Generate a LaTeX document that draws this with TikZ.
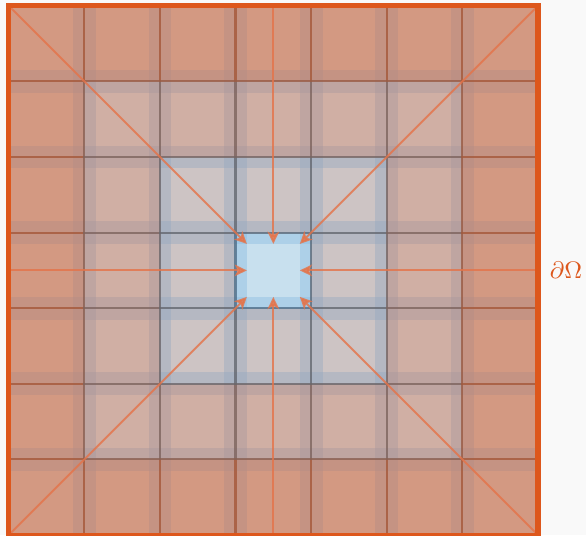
\documentclass[tikz,border=0pt]{standalone}
\usepackage{tikz}
\usetikzlibrary{arrows.meta}

\definecolor{pagebg}{RGB}{249,249,249}
\definecolor{rimc}{RGB}{221,87,28}
\definecolor{flowc}{RGB}{228,116,74}
% fill, overlap and edge colours per ring (0 = centre)
\definecolor{ringfill0}{RGB}{200,224,238}
\definecolor{ringfill1}{RGB}{205,196,196}
\definecolor{ringfill2}{RGB}{208,175,164}
\definecolor{ringfill3}{RGB}{211,153,130}
\definecolor{ringstrip0}{RGB}{136,188,226}
\definecolor{ringstrip1}{RGB}{150,168,192}
\definecolor{ringstrip2}{RGB}{168,152,158}
\definecolor{ringstrip3}{RGB}{178,140,134}
\definecolor{ringline0}{RGB}{70,115,150}
\definecolor{ringline1}{RGB}{100,104,112}
\definecolor{ringline2}{RGB}{125,100,94}
\definecolor{ringline3}{RGB}{165,88,58}

\newcommand{\ovw}{0.15}

\tikzset{
  ovlap/.style={fill=ringstrip#1, fill opacity=0.42},
  cellline/.style={draw=ringline#1, line width=0.8pt, draw opacity=0.55},
  flow/.style={-{Stealth[length=4.6pt,width=4.4pt,inset=1.2pt]}, draw=flowc,
    line width=0.75pt, opacity=0.82}
}

\begin{document}
\begin{tikzpicture}[x=1cm,y=1cm]
  % Page
  \fill[pagebg] (-0.115,0) rectangle (7.635,7.076);
  \useasboundingbox (-0.115,0) rectangle (7.635,7.076);
  % Subdomains with their overlap strips
  \foreach \i in {0,...,6} {
    \foreach \j in {0,...,6} {
      \pgfmathtruncatemacro\ring{max(abs(\i-3),abs(\j-3))}
      \fill[ringfill\ring] (\i,\j) rectangle ++(1,1);
      \ifnum\i>0 \fill[ovlap=\ring] (\i,\j) rectangle (\i+\ovw,\j+1); \fi
      \ifnum\i<6 \fill[ovlap=\ring] (\i+1-\ovw,\j) rectangle (\i+1,\j+1); \fi
      \ifnum\j>0 \fill[ovlap=\ring] (\i,\j) rectangle (\i+1,\j+\ovw); \fi
      \ifnum\j<6 \fill[ovlap=\ring] (\i,\j+1-\ovw) rectangle (\i+1,\j+1); \fi
    }
  }
  % Subdomain edges
  \foreach \i in {0,...,6} {
    \foreach \j in {0,...,6} {
      \pgfmathtruncatemacro\ring{max(abs(\i-3),abs(\j-3))}
      \draw[cellline=\ring] (\i,\j) rectangle ++(1,1);
    }
  }
  % Boundary points and targets on the centre subdomain
  \coordinate (bsw) at (0,0);
  \coordinate (bse) at (7,0);
  \coordinate (bnw) at (0,7);
  \coordinate (bne) at (7,7);
  \coordinate (bn) at (3.5,7);
  \coordinate (bs) at (3.5,0);
  \coordinate (bw) at (0,3.5);
  \coordinate (be) at (7,3.5);
  \coordinate (csw) at (3+\ovw,3+\ovw);
  \coordinate (cse) at (4-\ovw,3+\ovw);
  \coordinate (cnw) at (3+\ovw,4-\ovw);
  \coordinate (cne) at (4-\ovw,4-\ovw);
  \coordinate (cn) at (3.5,4-\ovw);
  \coordinate (cs) at (3.5,3+\ovw);
  \coordinate (cw) at (3+\ovw,3.5);
  \coordinate (ce) at (4-\ovw,3.5);
  % Propagation from the boundary
  \foreach \p in {sw,se,nw,ne,n,s,w,e}
    \draw[flow] (b\p) -- (c\p);
  % Boundary
  \draw[rimc, line width=1.9pt] (0,0) rectangle (7,7);
  \node[rimc, font=\small] (dom) at (7.37,3.5) {$\partial\Omega$};
\end{tikzpicture}
\end{document}
